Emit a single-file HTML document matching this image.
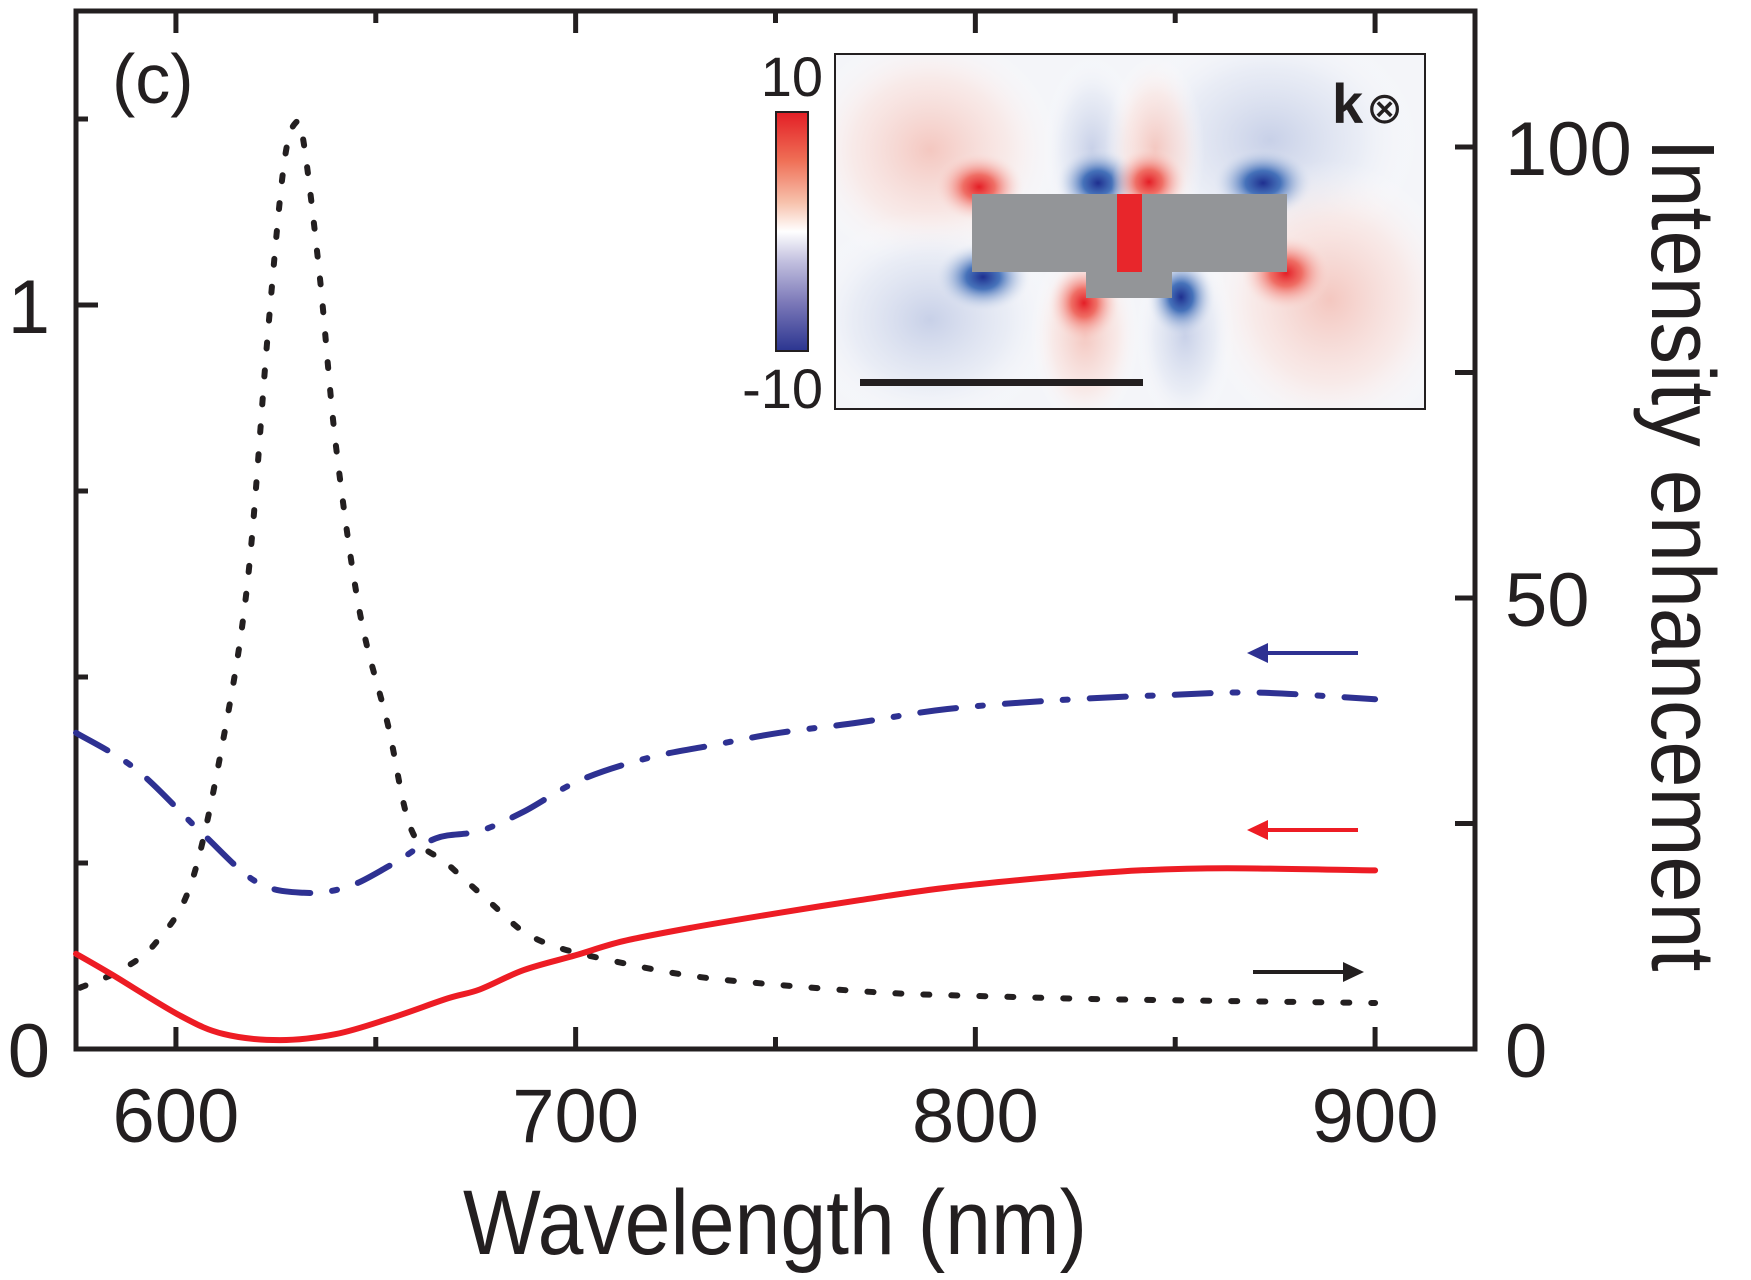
<!DOCTYPE html>
<html><head><meta charset="utf-8"><style>
html,body{margin:0;padding:0;background:#fff}
svg{display:block}
text{font-family:"Liberation Sans",Arial,sans-serif;fill:#231f20}
</style></head><body>
<svg id="chart" width="1751" height="1280" viewBox="0 0 1751 1280">
<defs>
<linearGradient id="cbar" x1="0" y1="0" x2="0" y2="1">
<stop offset="0" stop-color="#e31e25"/><stop offset="0.2" stop-color="#ef6e55"/><stop offset="0.38" stop-color="#f7c2ad"/><stop offset="0.5" stop-color="#ffffff"/><stop offset="0.62" stop-color="#c4c2e0"/><stop offset="0.8" stop-color="#7b78b8"/><stop offset="1" stop-color="#2b3590"/>
</linearGradient>
<radialGradient id="rb"><stop offset="0" stop-color="#e41e26"/><stop offset="0.35" stop-color="#ee5a50" stop-opacity="0.85"/><stop offset="1" stop-color="#fde9e4" stop-opacity="0"/></radialGradient>
<radialGradient id="bb"><stop offset="0" stop-color="#1f2f8f"/><stop offset="0.35" stop-color="#2b5eb0" stop-opacity="0.85"/><stop offset="1" stop-color="#e6ebf5" stop-opacity="0"/></radialGradient>
<radialGradient id="rf"><stop offset="0" stop-color="#f4b8ad" stop-opacity="0.75"/><stop offset="0.6" stop-color="#fbe3de" stop-opacity="0.6"/><stop offset="1" stop-color="#fff" stop-opacity="0"/></radialGradient>
<radialGradient id="bf"><stop offset="0" stop-color="#b9c4e2" stop-opacity="0.75"/><stop offset="0.6" stop-color="#e2e7f3" stop-opacity="0.6"/><stop offset="1" stop-color="#fff" stop-opacity="0"/></radialGradient>
<clipPath id="insclip"><rect x="835" y="54" width="590" height="355"/></clipPath>
</defs>

<g>
<rect x="835" y="54" width="590" height="355" fill="#f4f5f9"/>
<g clip-path="url(#insclip)">
<ellipse cx="930" cy="150" rx="130" ry="120" fill="url(#rf)"/>
<ellipse cx="1270" cy="140" rx="150" ry="120" fill="url(#bf)"/>
<ellipse cx="930" cy="320" rx="130" ry="110" fill="url(#bf)"/>
<ellipse cx="1330" cy="300" rx="130" ry="140" fill="url(#rf)"/>
<ellipse cx="1092" cy="150" rx="50" ry="95" fill="url(#bf)"/>
<ellipse cx="1155" cy="150" rx="50" ry="95" fill="url(#rf)"/>
<ellipse cx="1085" cy="335" rx="55" ry="95" fill="url(#rf)"/>
<ellipse cx="1185" cy="335" rx="50" ry="95" fill="url(#bf)"/>
<ellipse cx="979" cy="187" rx="45" ry="35" fill="url(#rb)"/>
<ellipse cx="1098" cy="183" rx="42" ry="35" fill="url(#bb)"/>
<ellipse cx="1149" cy="182" rx="38" ry="35" fill="url(#rb)"/>
<ellipse cx="1263" cy="183" rx="50" ry="35" fill="url(#bb)"/>
<ellipse cx="983" cy="277" rx="48" ry="35" fill="url(#bb)"/>
<ellipse cx="1084" cy="303" rx="36" ry="40" fill="url(#rb)"/>
<ellipse cx="1181" cy="297" rx="34" ry="40" fill="url(#bb)"/>
<ellipse cx="1286" cy="273" rx="45" ry="38" fill="url(#rb)"/>
</g>
<rect x="1117" y="194" width="25" height="78" fill="#e8262b"/>
<g fill="#939598">
<rect x="972" y="194" width="145" height="78"/>
<rect x="1142" y="194" width="145" height="78"/>
<rect x="1086" y="272" width="86" height="26"/>
</g>
<rect x="835" y="54" width="590" height="355" fill="none" stroke="#231f20" stroke-width="2"/>
<rect x="860" y="379" width="283" height="7" fill="#231f20"/>
<text x="1332" y="123" font-size="56" font-weight="bold">k<tspan font-weight="normal" font-size="44" dx="3">⊗</tspan></text>
<rect x="776" y="112" width="32" height="239" fill="url(#cbar)" stroke="#231f20" stroke-width="2"/>
<text x="823" y="96" font-size="56" text-anchor="end">10</text>
<text x="823" y="408" font-size="56" text-anchor="end">-10</text>
</g>

<g id="axes"></g>
<g id="series"></g>

<text x="112" y="103" font-size="70">(c)</text>
<text x="775" y="1254" font-size="92" text-anchor="middle" textLength="624" lengthAdjust="spacingAndGlyphs">Wavelength (nm)</text>
<text transform="translate(1652,555) rotate(90)" font-size="90" text-anchor="middle" textLength="833" lengthAdjust="spacingAndGlyphs">Intensity enhancement</text>

<g><line x1="1358" y1="653" x2="1265" y2="653" stroke="#2e3192" stroke-width="4"/><polygon points="1247,653 1268,643 1268,663" fill="#2e3192"/></g>
<g><line x1="1358" y1="830" x2="1265" y2="830" stroke="#ed1c24" stroke-width="4"/><polygon points="1247,830 1268,820 1268,840" fill="#ed1c24"/></g>
<g><line x1="1253" y1="972" x2="1345" y2="972" stroke="#231f20" stroke-width="4"/><polygon points="1364,972 1343,962 1343,982" fill="#231f20"/></g>
</svg>
<script>
const xTicks=[600,650,700,750,800,850,900];
const xLabels=[600,700,800,900];
const leftTicks=[0,0.25,0.5,0.75,1,1.25];
const leftLabels=[0,1];
const rightTicks=[0,25,50,75,100];
const rightLabels=[0,50,100];
const redX=[575,584,601,612,626,640,654,668,676,687,700,712,729,751,771,793,821,841,863,900];
const redY=[0.128,0.100,0.045,0.020,0.012,0.020,0.042,0.068,0.080,0.106,0.126,0.145,0.163,0.183,0.200,0.217,0.232,0.240,0.243,0.240];
const blueX=[575,590,606,620,632,643,654,665,676,687,701,718,735,751,771,793,821,849,871,900];
const blueY=[0.425,0.376,0.293,0.225,0.210,0.218,0.248,0.283,0.293,0.319,0.361,0.391,0.409,0.425,0.439,0.457,0.469,0.476,0.479,0.470];
const blackX=[576,586,595,604,612,618,623,627,630,632,636,640,646,653,659,668,679,687,696,710,729,751,779,807,835,900];
const blackY=[6.8,8.7,11.8,18.6,34.7,52.1,79.4,98,102.7,100.4,85.6,67,48.4,36,24.2,20.5,16.1,13,11.2,9.7,8.1,7.1,6.2,5.8,5.5,5.1];

const X0=76,X1=1475,Y0=1049,Y1=11;
const xMin=575,xMax=925;
const xs=v=>X0+(v-xMin)/(xMax-xMin)*(X1-X0);
const yl=v=>Y0-v*744;
const yr=v=>Y0-v*9.02;
const NS='http://www.w3.org/2000/svg';
function mk(tag,attrs,parent){const e=document.createElementNS(NS,tag);for(const k in attrs)e.setAttribute(k,attrs[k]);parent.appendChild(e);return e;}
const axes=document.getElementById('axes');
const frame=mk('rect',{x:X0,y:Y1,width:X1-X0,height:Y0-Y1,fill:'none',stroke:'#231f20','stroke-width':5},axes);


xTicks.forEach(t=>{
  const L=(t%100===0)?22:12;
  const b=mk('line',{x1:xs(t),x2:xs(t),y1:Y0,y2:Y0-L,stroke:'#231f20','stroke-width':5},axes);
  
  
  const tp=mk('line',{x1:xs(t),x2:xs(t),y1:Y1,y2:Y1+L,stroke:'#231f20','stroke-width':5},axes);
  
  
});
xLabels.forEach(t=>{
  const e=mk('text',{x:xs(t),y:1142,'font-size':76,'text-anchor':'middle'},axes);
  e.textContent=t;
  
  
});
leftTicks.forEach(t=>{
  const L=(t%1===0)?22:12;
  const e=mk('line',{x1:X0,x2:X0+L,y1:yl(t),y2:yl(t),stroke:'#231f20','stroke-width':5},axes);
  
  
});
leftLabels.forEach(t=>{
  const e=mk('text',{x:50,y:yl(t)+28,'font-size':76,'text-anchor':'end'},axes);
  e.textContent=t;
  
  
});
rightTicks.forEach(t=>{
  const e=mk('line',{x1:X1,x2:X1-20,y1:yr(t),y2:yr(t),stroke:'#231f20','stroke-width':5},axes);
  
  
});
rightLabels.forEach(t=>{
  const e=mk('text',{x:1505,y:yr(t)+28,'font-size':76},axes);
  e.textContent=t;
  
  
});
function smooth(pts){
  let d='M'+pts[0][0].toFixed(1)+' '+pts[0][1].toFixed(1);
  for(let i=0;i<pts.length-1;i++){
    const p0=pts[Math.max(i-1,0)],p1=pts[i],p2=pts[i+1],p3=pts[Math.min(i+2,pts.length-1)];
    const c1=[p1[0]+(p2[0]-p0[0])/6,p1[1]+(p2[1]-p0[1])/6];
    const c2=[p2[0]-(p3[0]-p1[0])/6,p2[1]-(p3[1]-p1[1])/6];
    d+=' C'+c1.map(v=>v.toFixed(1)).join(' ')+' '+c2.map(v=>v.toFixed(1)).join(' ')+' '+p2[0].toFixed(1)+' '+p2[1].toFixed(1);
  }
  return d;
}
const ser=document.getElementById('series');
const black=mk('path',{d:smooth(blackX.map((x,i)=>[xs(x),yr(blackY[i])])),fill:'none',stroke:'#231f20','stroke-width':6,'stroke-linecap':'round','stroke-dasharray':'6 22'},ser);


const blue=mk('path',{d:smooth(blueX.map((x,i)=>[xs(x),yl(blueY[i])])),fill:'none',stroke:'#2e3192','stroke-width':6,'stroke-linecap':'round','stroke-dasharray':'36 22 5 22'},ser);


const red=mk('path',{d:smooth(redX.map((x,i)=>[xs(x),yl(redY[i])])),fill:'none',stroke:'#ed1c24','stroke-width':6,'stroke-linecap':'round'},ser);


</script>
</body></html>
